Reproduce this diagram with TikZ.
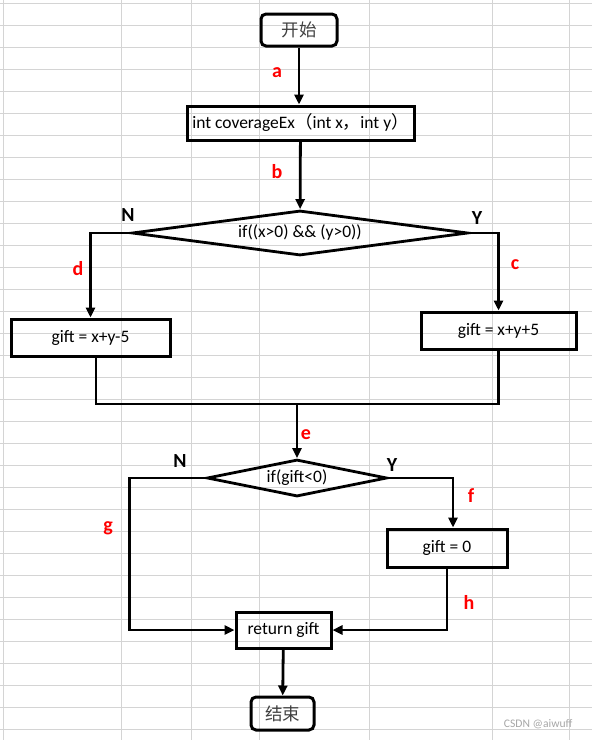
\documentclass[tikz,border=0pt]{standalone}
\usepackage{fontspec}
\setmainfont{Carlito}
\newfontfamily\cjk{Noto Sans CJK SC}
\usetikzlibrary{positioning, arrows.meta, shapes.geometric}
\definecolor{gridgray}{HTML}{D4D4D4}
\definecolor{termtext}{HTML}{404040}
\tikzset{
  procbox/.style={draw, line width=3pt, inner sep=0pt, font=\fontsize{17.5}{20}\selectfont},
  termbox/.style={draw, rounded corners=5pt, line width=3pt, inner sep=0pt, text=termtext, font=\cjk\fontsize{17.5}{20}\selectfont},
  decision/.style={draw, diamond, line width=2.8pt, inner sep=0pt, font=\fontsize{17.5}{20}\selectfont},
  flow/.style={line width=2.8pt, -{Triangle[length=10pt, width=9pt]}},
  link/.style={line width=2.8pt},
  pathlbl/.style={text=red, font=\bfseries\fontsize{20}{22}\selectfont},
  branchlbl/.style={font=\bfseries\fontsize{20}{22}\selectfont}
}

\begin{document}
\begin{tikzpicture}[x=1pt, y=-1pt]
  \useasboundingbox (0,0) rectangle (592,740);
  % sheet grid behind the chart
  \foreach \gx in {3,121,191,259,369,492,569}
    \draw[gridgray, line width=1pt] (\gx,0) -- (\gx,740);
  \foreach \gy in {0,...,33}
    \draw[gridgray, line width=1pt] (0,3.3+22*\gy) -- (592,3.3+22*\gy);

  \node[termbox, minimum width=76pt, minimum height=32pt] (start) at (299,30) {开始};
  \node[procbox, minimum width=227pt, minimum height=34pt] (func) at (300.5,123) {int coverageEx{\cjk （}int x{\cjk ，}int y{\cjk ）}};
  \node[decision, minimum width=336pt, minimum height=45pt, aspect=7.5] (cond1) at (300,233) {if((x>0) \&\& (y>0))};
  \node[procbox, minimum width=159pt, minimum height=37pt] (neg) at (90.5,337.5) {gift = x+y-5};
  \node[procbox, minimum width=155pt, minimum height=37pt] (pos) at (498.5,330.5) {gift = x+y+5};
  \coordinate (join) at (297,404);
  \node[decision, minimum width=180pt, minimum height=37pt, aspect=4.9] (cond2) at (297,478) {if(gift<0)};
  \node[procbox, minimum width=120pt, minimum height=38pt] (zero) at (447,548) {gift = 0};
  \node[procbox, minimum width=95pt, minimum height=36pt] (ret) at (283.5,630) {return gift};
  \node[termbox, minimum width=63pt, minimum height=33pt] (stop) at (282.5,713.5) {结束};

  % path letters
  \node[pathlbl] (la) at (277,73) {a};
  \node[pathlbl] (lb) at (277,172) {b};
  \node[pathlbl] (lc) at (515,265) {c};
  \node[pathlbl] (ld) at (78,269) {d};
  \node[pathlbl] (le) at (306,435) {e};
  \node[pathlbl] (lf) at (471,496) {f};
  \node[pathlbl] (lg) at (108,528) {g};
  \node[pathlbl] (lh) at (469,602) {h};
  \node[branchlbl] (no1) at (128,215) {N};
  \node[branchlbl] (yes1) at (477,218) {Y};
  \node[branchlbl] (no2) at (180,461) {N};
  \node[branchlbl] (yes2) at (392,465) {Y};

  \draw[flow] (start) -- (start |- func.north);
  \draw[flow] (func) -- (cond1);
  \draw[flow] (cond1.west) -| (neg.north);
  \draw[flow] (cond1.east) -| (pos.north);
  \draw[link] ([xshift=5.5pt]neg.south) |- (join) -| (pos.south);
  \draw[flow] (join) -- (cond2);
  \draw[flow] (cond2.east) -| ([xshift=6pt]zero.north);
  \draw[flow] (cond2.west) -- ++(-76,0) |- (ret.west);
  \draw[flow] (zero.south) |- (ret.east);
  \draw[flow] (ret) -- (stop);

  \node[text=gray!70, font=\fontsize{11.6}{13}\selectfont, anchor=east] (mark) at (576,724) {CSDN @aiwuff};
\end{tikzpicture}
\end{document}
